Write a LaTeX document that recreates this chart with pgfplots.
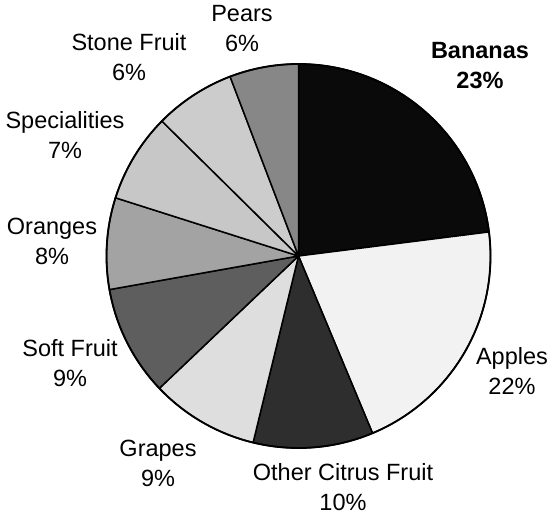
\documentclass[border=0pt]{standalone}
\usepackage{pgfplots}
\pgfplotsset{compat=1.18}
\usepackage{pgfplotstable}
\usepackage{fontspec}
\setmainfont{Liberation Sans}

% share = slice size as drawn (%), pct = printed label, dark = gray (percent black),
% lx/ly = label centre (px, y from top)
\pgfplotstableread[col sep=comma]{
name,share,pct,dark,lx,ly,bold
Bananas,23.0,23,96,480,66,1
Apples,20.7,22,5,512,371,0
Other Citrus Fruit,10.1,10,82,343,487,0
Grapes,9.1,9,13,158,463,0
Soft Fruit,9.3,9,63,70,363,0
Oranges,7.7,8,36,52,241,0
Specialities,7.5,7,22,65,135,0
Stone Fruit,6.8,6,20,129,57,0
Pears,5.8,6,47,242,29,0
}\pietable

\def\pcx{298.5}
\def\pcy{259}
\def\prad{192pt}

\pgfmathsetmacro\cum{0}
\pgfplotsforeachungrouped \i in {0,...,8}{%
  \pgfplotstablegetelem{\i}{share}\of\pietable
  \let\s\pgfplotsretval
  \pgfmathsetmacro\a{90-3.6*\cum}%
  \pgfmathsetmacro\b{90-3.6*(\cum+\s)}%
  \expandafter\xdef\csname pieA\i\endcsname{\a}%
  \expandafter\xdef\csname pieB\i\endcsname{\b}%
  \pgfplotstablegetelem{\i}{pct}\of\pietable
  \expandafter\xdef\csname pieS\i\endcsname{\pgfplotsretval}%
  \pgfplotstablegetelem{\i}{dark}\of\pietable
  \expandafter\xdef\csname pieG\i\endcsname{\pgfplotsretval}%
  \pgfplotstablegetelem{\i}{name}\of\pietable
  \expandafter\xdef\csname pieN\i\endcsname{\pgfplotsretval}%
  \pgfplotstablegetelem{\i}{lx}\of\pietable
  \expandafter\xdef\csname pieX\i\endcsname{\pgfplotsretval}%
  \pgfplotstablegetelem{\i}{ly}\of\pietable
  \pgfmathsetmacro\yy{515-\pgfplotsretval}%
  \expandafter\xdef\csname pieY\i\endcsname{\yy}%
  \pgfplotstablegetelem{\i}{bold}\of\pietable
  \ifnum\pgfplotsretval=1
    \expandafter\gdef\csname pieF\i\endcsname{\bfseries}%
  \else
    \expandafter\gdef\csname pieF\i\endcsname{}%
  \fi
  \pgfmathsetmacro\cum{\cum+\s}%
}

\begin{document}
\begin{tikzpicture}
\begin{axis}[
  hide axis, scale only axis,
  width=550pt, height=515pt,
  xmin=0, xmax=550, ymin=0, ymax=515,
  clip=false,
]
\path (axis cs:0,0) rectangle (axis cs:550,515);
\pgfplotsinvokeforeach{0,...,8}{
  \filldraw[fill=black!\csname pieG#1\endcsname, draw=black, line width=1.5pt, line join=round]
    (axis cs:\pcx,\pcy) -- ++(\csname pieA#1\endcsname:\prad)
    arc[start angle=\csname pieA#1\endcsname, end angle=\csname pieB#1\endcsname, radius=\prad] -- cycle;
}
\draw[line width=1.8pt] (axis cs:\pcx,\pcy) circle[radius=\prad];
\pgfplotsinvokeforeach{0,...,8}{
  \node[align=center, inner sep=0pt,
        font=\fontsize{23.5}{30}\selectfont\csname pieF#1\endcsname]
    at (axis cs:\csname pieX#1\endcsname,\csname pieY#1\endcsname)
    {\csname pieN#1\endcsname\\\csname pieS#1\endcsname\%};
}
\end{axis}
\end{tikzpicture}
\end{document}
